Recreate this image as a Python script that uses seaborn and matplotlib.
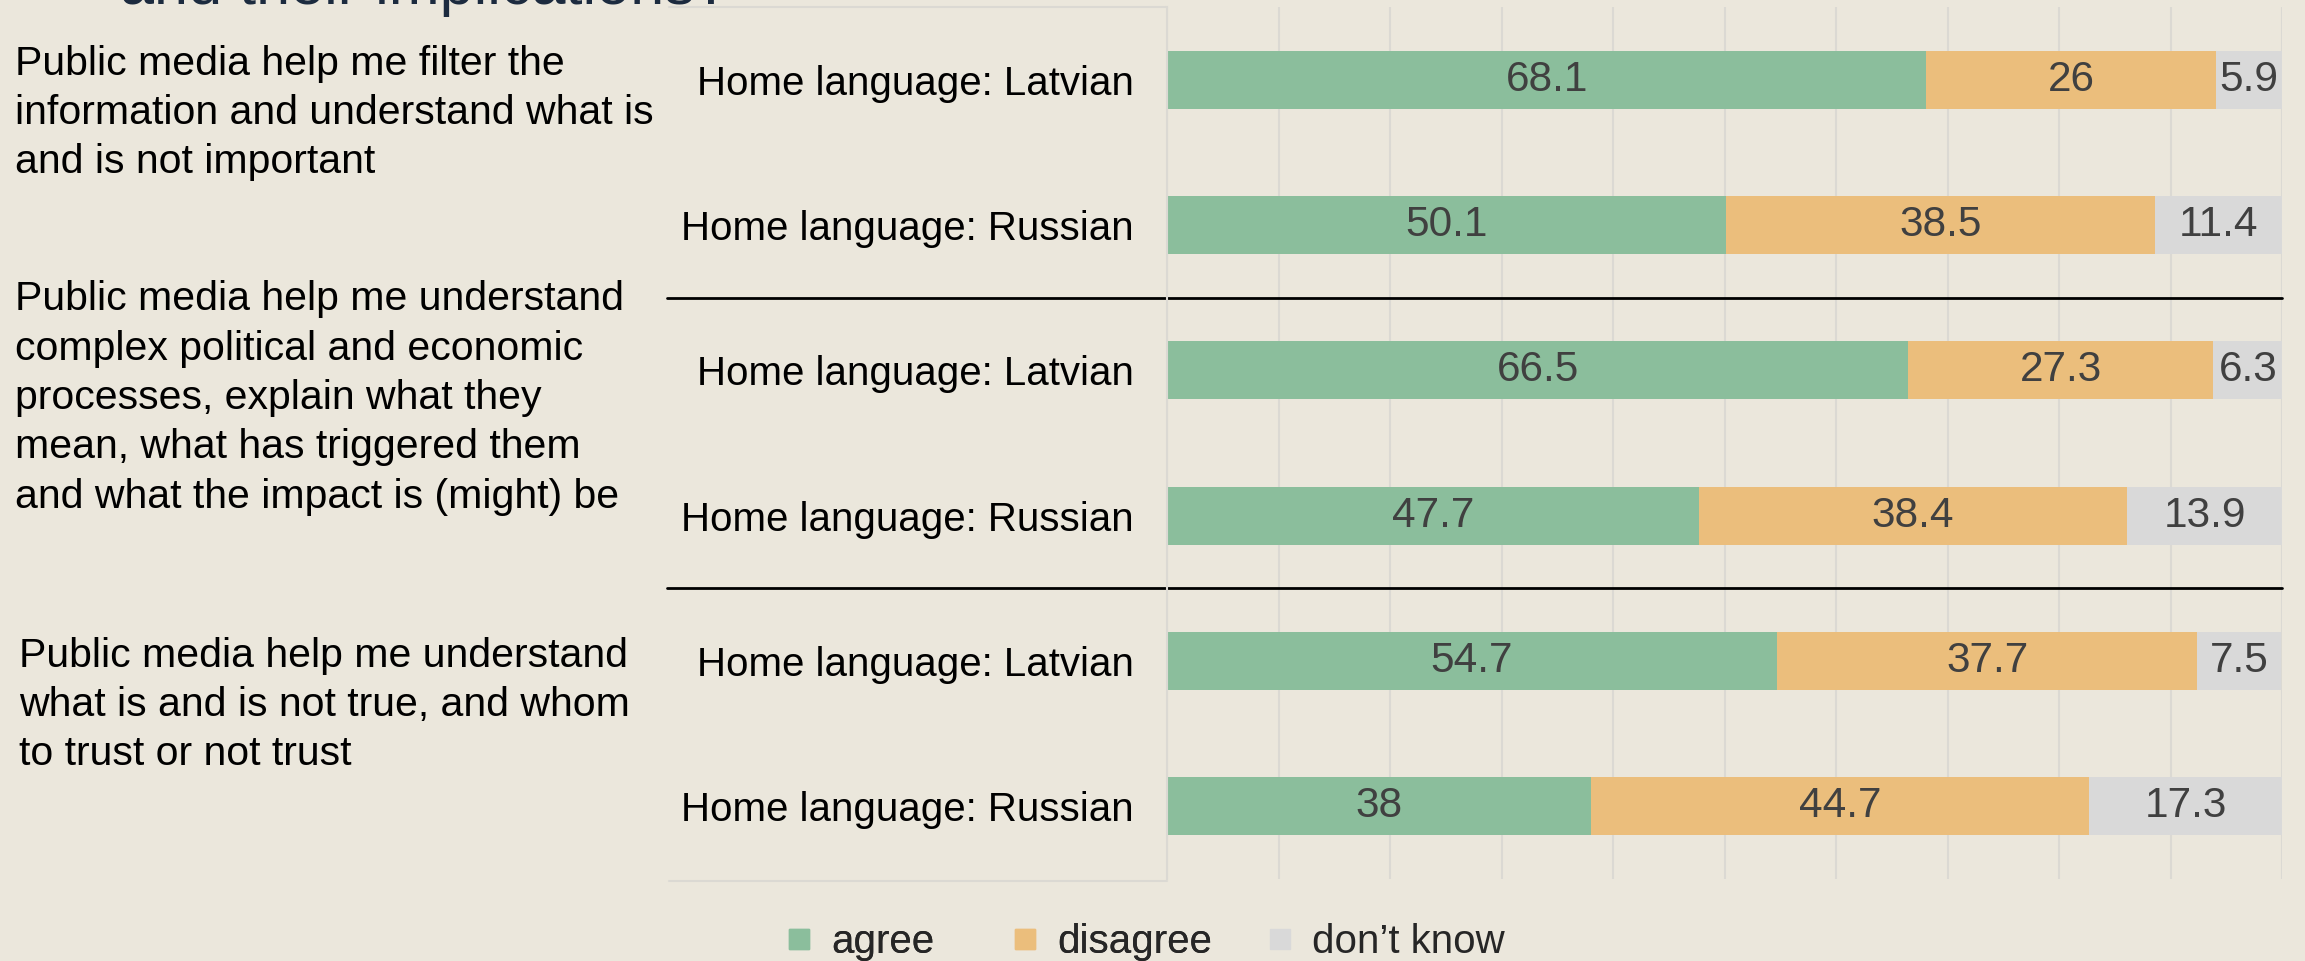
import matplotlib
matplotlib.use("Agg")
import pandas as pd
import matplotlib.pyplot as plt
from matplotlib.lines import Line2D
import seaborn as sns

# data
questions = [
    "Public media help me filter the\ninformation and understand what is\nand is not important",
    "Public media help me understand\ncomplex political and economic\nprocesses, explain what they\nmean, what has triggered them\nand what the impact is (might) be",
    "Public media help me understand\nwhat is and is not true, and whom\nto trust or not trust",
]
rows = ["Home language: Latvian", "Home language: Russian"] * 3
agree = [68.1, 50.1, 66.5, 47.7, 54.7, 38]
disagree = [26, 38.5, 27.3, 38.4, 37.7, 44.7]
dont_know = [5.9, 11.4, 6.3, 13.9, 7.5, 17.3]
series = ["agree", "disagree", "don’t know"]

green = "#8BBE9C"
orange = "#EBBE7C"
gray = "#D9D9D9"
bg = "#EBE7DC"
W, H = 2305, 961

sns.set_theme(style="white")
plt.rcParams["font.family"] = ["Liberation Sans", "DejaVu Sans"]

df = pd.DataFrame({"row": [f"r{i}" for i in range(6)],
                   "agree": agree, "disagree": disagree, "dont": dont_know})
df["upto_disagree"] = df["agree"] + df["disagree"]
df["total"] = df["upto_disagree"] + df["dont"]

fig = plt.figure(figsize=(W / 100, H / 100), dpi=100, facecolor=bg)
ax = fig.add_axes([1167 / W, 1 - 879 / H, (2282 - 1167) / W, (879 - 7) / H])
ax.set_facecolor(bg)

# stacked bars drawn as overlapping cumulative bars
for col, c in [("total", gray), ("upto_disagree", orange), ("agree", green)]:
    sns.barplot(data=df, x=col, y="row", color=c, width=0.4, saturation=1,
                errorbar=None, linewidth=0, ax=ax)

ax.set_xlim(0, 100)
ax.set_ylim(5.5, -0.5)
ax.set_xticks(range(0, 101, 10))
ax.xaxis.grid(True, color="#DBD9D3", lw=1.5)
ax.set_axisbelow(True)
ax.tick_params(axis="x", length=0, labelbottom=False)
ax.set_yticks(range(6))
ax.set_yticklabels(rows)
ax.tick_params(axis="y", length=0, pad=24, labelsize=29, labelcolor="black")
ax.set_xlabel("")
ax.set_ylabel("")
for s in ["top", "right", "bottom"]:
    ax.spines[s].set_visible(False)
ax.spines["left"].set_color("#DBD9D3")
ax.spines["left"].set_linewidth(1.5)

# segment labels
for i in range(6):
    starts = [0, agree[i], agree[i] + disagree[i]]
    for st, v in zip(starts, [agree[i], disagree[i], dont_know[i]]):
        ax.text(st + v / 2, i, f"{v:g}", ha="center", va="center",
                fontsize=30.5, color="#404040")

# group separators
for yy in [1.5, 3.5]:
    ax.plot([(667 - 1167) / 1115, 1], [yy, yy], color="black", lw=2,
            transform=ax.get_yaxis_transform(), clip_on=False)

# frame around label panel
for yp in [7, 881]:
    fig.add_artist(Line2D([669 / W, 1167 / W], [1 - yp / H, 1 - yp / H],
                          color="#DBD9D3", lw=1.5))

# question texts
for q, x0, y0 in zip(questions, [15, 15, 19], [113, 398, 705]):
    fig.text(x0 / W, 1 - y0 / H, q, ha="left", va="center", fontsize=29.5,
             color="black", linespacing=1.38)

# title cut off at the top edge
fig.text(120 / W, 1 - 4 / H, "and their implications?", fontsize=44,
         color="#1C2B3F", va="baseline", ha="left")

handles = [Line2D([], [], marker="s", linestyle="", markersize=14.4, color=c)
           for c in [green, orange, gray]]
leg_kw = dict(loc="center left", ncol=2, frameon=False, fontsize=29,
              handlelength=0.5, handletextpad=0.55, columnspacing=2.0,
              borderpad=0, borderaxespad=0)
leg1 = fig.legend(handles[:2], series[:2],
                  bbox_to_anchor=(789 / W, 1 - 942 / H), **leg_kw)
fig.add_artist(leg1)
fig.legend(handles[2:], series[2:],
           bbox_to_anchor=(1270 / W, 1 - 942 / H), **leg_kw)

fig.savefig("out.png", dpi=100, facecolor=bg)
